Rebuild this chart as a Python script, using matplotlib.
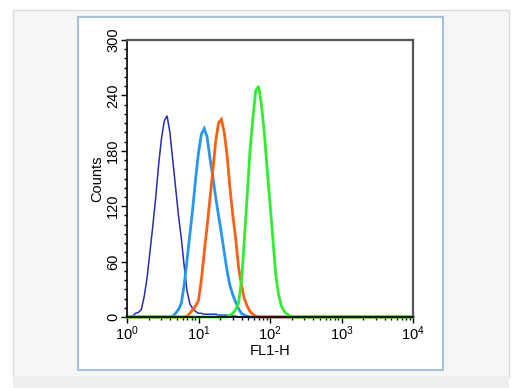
import numpy as np
import matplotlib
matplotlib.use("Agg")
import matplotlib.pyplot as plt
from matplotlib.patches import Rectangle
from matplotlib.ticker import LogLocator, MultipleLocator, FixedLocator

plt.rcParams["font.family"] = ["Liberation Sans", "DejaVu Sans"]
plt.rcParams["mathtext.fontset"] = "custom"
plt.rcParams["mathtext.rm"] = "Liberation Sans"

# histogram channels, log10(FL1-H) positions and counts
dark_log = [0.00, 0.08, 0.12, 0.16, 0.20, 0.24, 0.28, 0.32, 0.36, 0.40, 0.44, 0.48,
            0.52, 0.56, 0.60, 0.64, 0.68, 0.72, 0.76, 0.80, 0.84, 0.88, 0.92, 0.96,
            1.00, 1.04, 1.08, 1.12, 1.16, 1.20, 1.24, 1.28, 1.32, 1.36, 1.40, 1.44,
            1.48, 1.52, 1.56, 4.00]
dark_cnt = [0, 1, 4, 5, 8, 22, 42, 70, 98, 128, 163, 192,
            212, 218, 200, 170, 140, 110, 85, 55, 28, 14, 9, 6,
            4, 4, 3, 3, 3, 3, 3, 2, 2, 2, 2, 1,
            1, 1, 0, 0]

light_log = [0.00, 0.60, 0.64, 0.68, 0.72, 0.76, 0.80, 0.84, 0.88, 0.92, 0.96, 1.00,
             1.04, 1.08, 1.12, 1.16, 1.20, 1.24, 1.28, 1.32, 1.36, 1.40, 1.44, 1.48,
             1.52, 1.56, 1.60, 1.64, 1.68, 1.72, 4.00]
light_cnt = [0, 0, 1, 4, 8, 15, 35, 62, 90, 118, 150, 178,
             198, 204, 195, 172, 152, 130, 110, 91, 70, 50, 34, 24,
             16, 9, 4, 2, 1, 0, 0]

orange_log = [0.00, 0.80, 0.84, 0.88, 0.92, 0.96, 1.00, 1.04, 1.08, 1.12, 1.16, 1.20,
              1.24, 1.28, 1.32, 1.36, 1.40, 1.44, 1.48, 1.52, 1.56, 1.60, 1.64, 1.68,
              1.72, 1.76, 1.80, 1.84, 4.00]
orange_cnt = [0, 0, 1, 4, 8, 12, 18, 40, 70, 98, 128, 158,
              190, 210, 214, 200, 175, 140, 110, 85, 54, 35, 20, 12,
              6, 3, 1, 0, 0]

green_log = [0.00, 1.40, 1.44, 1.48, 1.52, 1.56, 1.60, 1.64, 1.68, 1.72, 1.76, 1.80,
             1.84, 1.88, 1.92, 1.96, 2.00, 2.04, 2.08, 2.12, 2.16, 2.20, 2.24, 2.28,
             2.32, 4.00]
green_cnt = [0, 0, 2, 4, 8, 15, 38, 82, 130, 180, 215, 245,
             250, 230, 200, 160, 123, 85, 46, 24, 12, 6, 3, 1,
             0, 0]

y_ticks = [0, 60, 120, 180, 240, 300]

series = [
    (dark_log, dark_cnt, "#2a2ab4", 1.1),
    (light_log, light_cnt, "#2796ec", 2.0),
    (orange_log, orange_cnt, "#ff5f12", 2.0),
    (green_log, green_cnt, "#2fee2f", 2.0),
]

fig = plt.figure(figsize=(5.2, 3.88), dpi=100)
W, H = 520, 388

def px_rect(x0, y0, x1, y1, **kw):
    fig.patches.append(Rectangle((x0 / W, 1 - y1 / H), (x1 - x0) / W, (y1 - y0) / H,
                                 transform=fig.transFigure, zorder=-5, **kw))

# page background panels
px_rect(13, 10, 509, 377, facecolor="#f5f6f6", edgecolor="#dcdcdc", lw=1)
px_rect(13, 377, 509, 388, facecolor="#eeefef", edgecolor="none")
px_rect(78, 17, 443, 370, facecolor="white", edgecolor="#a9c0d8", lw=1.5)

ax = fig.add_axes([127 / W, 1 - 317 / H, (413 - 127) / W, (317 - 40) / H])
ax.patch.set_alpha(0)
for lg, cnt, col, lw in series:
    ax.plot(10 ** np.array(lg), cnt, color=col, lw=lw, clip_on=False,
            solid_joinstyle="miter")

ax.set_xscale("log")
ax.set_xlim(1, 1e4)
ax.set_ylim(0, 300)
ax.yaxis.set_major_locator(FixedLocator(y_ticks))
ax.yaxis.set_minor_locator(MultipleLocator(10))
ax.xaxis.set_major_locator(LogLocator(base=10, numticks=10))
ax.xaxis.set_minor_locator(LogLocator(base=10, subs=np.arange(2, 10), numticks=10))

ax.tick_params(axis="both", which="major", direction="out", length=4, width=1,
               labelsize=10.5, pad=1)
ax.tick_params(axis="both", which="minor", direction="out", length=2.5, width=1)
ax.tick_params(axis="y", labelrotation=90)
for lab in ax.get_yticklabels():
    lab.set_va("center")

for s in ["left", "bottom"]:
    ax.spines[s].set_color("black")
    ax.spines[s].set_linewidth(1.2)
for s in ["top", "right"]:
    ax.spines[s].set_color("#555555")
    ax.spines[s].set_linewidth(1.6)

ax.set_ylabel("Counts", fontsize=10.5, labelpad=1)
ax.set_xlabel("FL1-H", fontsize=10.5, labelpad=1)

fig.savefig("out.png", dpi=100)
